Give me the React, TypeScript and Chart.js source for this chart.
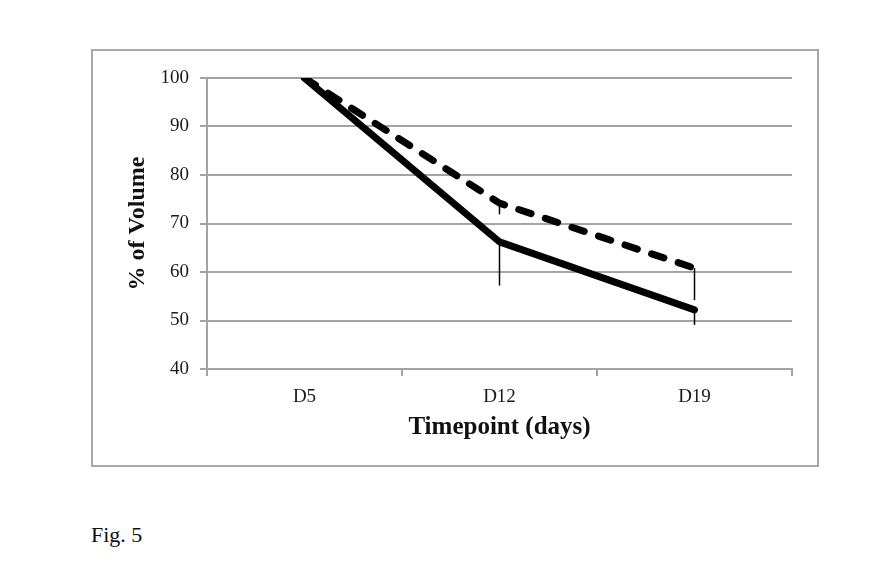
import React, { useEffect, useRef } from "react";
import { Chart, registerables } from "chart.js";

Chart.register(...registerables);

const categories = ["D5", "D12", "D19"];
const solidValues = [100, 66.2, 52.2];
const dashedValues = [100, 74.2, 60.8];
const solidErrMinus = [0, 9, 3.1];
const dashedErrMinus = [0, 2.3, 6.6];
const yMin = 40;
const yMax = 100;
const yStep = 10;
const xTitle = "Timepoint (days)";
const yTitle = "% of Volume";
const figCaption = "Fig. 5";

const errorBarPlugin = {
  id: "minusErrorBars",
  afterDatasetsDraw(chart: any) {
    const { ctx, scales } = chart;
    const xs = scales.x;
    const ys = scales.y;
    const sets = [
      { vals: solidValues, errs: solidErrMinus },
      { vals: dashedValues, errs: dashedErrMinus },
    ];
    ctx.save();
    ctx.strokeStyle = "#000";
    ctx.lineWidth = 1.5;
    sets.forEach((s) => {
      s.vals.forEach((v, i) => {
        const e = s.errs[i];
        if (!e) return;
        const x = xs.getPixelForValue(i);
        ctx.beginPath();
        ctx.moveTo(x, ys.getPixelForValue(v));
        ctx.lineTo(x, ys.getPixelForValue(v - e));
        ctx.stroke();
      });
    });
    ctx.restore();
  },
};

export default function App() {
  const ref = useRef<HTMLCanvasElement>(null);
  useEffect(() => {
    if (!ref.current) return;
    const gridColor = "#a3a3a3";
    const chart = new Chart(ref.current, {
      type: "line",
      data: {
        labels: categories,
        datasets: [
          {
            data: solidValues,
            borderColor: "#000",
            borderWidth: 7,
            pointRadius: 0,
            tension: 0,
            borderCapStyle: "round",
            borderJoinStyle: "round",
          },
          {
            data: dashedValues,
            borderColor: "#000",
            borderWidth: 7,
            pointRadius: 0,
            tension: 0,
            borderDash: [13, 15],
            borderCapStyle: "round",
            borderJoinStyle: "round",
          },
        ],
      },
      options: {
        responsive: false,
        animation: false,
        layout: { padding: { left: 0, right: 26, top: 28, bottom: 0 } },
        plugins: { legend: { display: false }, tooltip: { enabled: false } },
        scales: {
          x: {
            type: "category",
            offset: true,
            grid: {
              offset: true,
              drawOnChartArea: false,
              drawTicks: true,
              tickLength: 7,
              color: gridColor,
              lineWidth: 2,
            },
            border: { color: gridColor, width: 2 },
            ticks: {
              color: "#1a1a1a",
              padding: 10,
              font: { family: "Liberation Serif", size: 19 },
            },
            title: {
              display: true,
              text: xTitle,
              color: "#111",
              font: { family: "Liberation Serif", size: 25, weight: "bold" },
              padding: { top: 0, bottom: 23 },
            },
            afterFit: (s: any) => {
              s.height = 97;
            },
          },
          y: {
            min: yMin,
            max: yMax,
            ticks: {
              stepSize: yStep,
              color: "#1a1a1a",
              padding: 11,
              font: { family: "Liberation Serif", size: 19 },
            },
            grid: { color: gridColor, lineWidth: 2, tickLength: 7 },
            border: { color: gridColor, width: 2 },
            title: {
              display: true,
              text: yTitle,
              color: "#111",
              font: { family: "Liberation Serif", size: 24, weight: "bold" },
              padding: { top: 31, bottom: 0 },
            },
            afterFit: (s: any) => {
              s.width = 115;
            },
          },
        },
      } as any,
      plugins: [errorBarPlugin],
    });
    return () => chart.destroy();
  }, []);

  return (
    <div
      style={{
        position: "absolute",
        left: 0,
        top: 0,
        width: 896,
        height: 582,
        background: "#fff",
        overflow: "hidden",
      }}
    >
      <div
        style={{
          position: "absolute",
          left: 91,
          top: 49,
          width: 728,
          height: 418,
          boxSizing: "border-box",
          border: "2px solid #a8a8a8",
        }}
      />
      <canvas
        ref={ref}
        width={726}
        height={416}
        style={{ position: "absolute", left: 92, top: 50, width: 726, height: 416 }}
      />
      <div
        style={{
          position: "absolute",
          left: 91,
          top: 521,
          fontFamily: "'Liberation Serif', serif",
          fontSize: 22,
          lineHeight: "28px",
          color: "#111",
        }}
      >
        {figCaption}
      </div>
    </div>
  );
}
